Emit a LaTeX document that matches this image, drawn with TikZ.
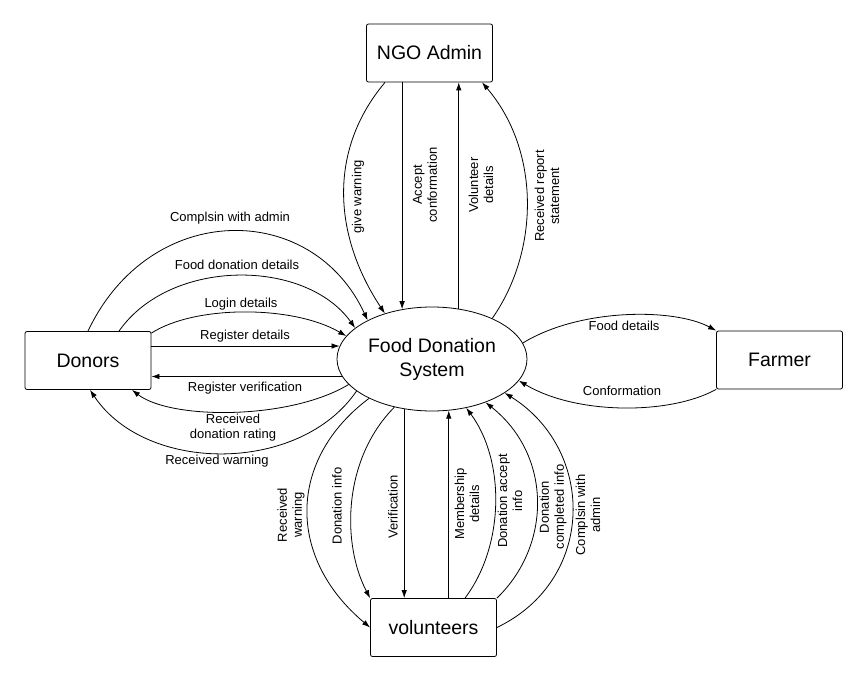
\documentclass[tikz,border=0pt]{standalone}
\usepackage{fontspec}
\setmainfont{Liberation Sans}
\usetikzlibrary{shapes.geometric,arrows.meta}
\begin{document}
\begin{tikzpicture}[x=1pt,y=-1pt,
 box/.style={draw, line width=0.8pt, rounded corners=2pt, minimum width=126pt, minimum height=58pt, inner sep=0pt, font=\fontsize{19.5}{24}\selectfont},
 lbl/.style={font=\fontsize{13}{15}\selectfont, align=center, inner sep=0pt},
 vlbl/.style={lbl, rotate=90},
 arr/.style={line width=0.8pt, -{Latex[length=8pt,width=5.5pt]}}]
\useasboundingbox (0,0) rectangle (867,682);
\node[box] (ngo) at (429.5,53) {NGO Admin};
\node[box] (don) at (88,360.5) {Donors};
\node[box] (far) at (779.5,360) {Farmer};
\node[box] (vol) at (433.5,627.5) {volunteers};
\node[draw, ellipse, line width=0.8pt, minimum width=190pt, minimum height=104pt, inner sep=0pt, align=center, font=\fontsize{19.5}{24}\selectfont] (fds) at (432,359) {Food Donation\\System};
% NGO
\draw[arr] ([xshift=-44.5pt]ngo.south) .. controls (328,150) and (333,235) .. (fds.136);
\draw[arr] (fds.121.3 |- ngo.south) -- (fds.121.3);
\draw[arr] (fds.62.5) -- (fds.62.5 |- ngo.south);
\draw[arr] (fds.34.5) .. controls (540,250) and (540,150) .. ([xshift=52.5pt]ngo.south);
% Donors
\draw[arr] (don.north) .. controls (150,200) and (312,200) .. (fds.149);
\draw[arr] ([xshift=31pt]don.north) .. controls (170,258) and (305,258) .. (fds.158.6);
\draw[arr] ([yshift=-2pt]don.north east) .. controls (195,305) and (293,305) .. (fds.165.6);
\draw[arr] (fds.172 -| don.east) -- (fds.172);
\draw[arr] (fds.191.7) -- (fds.191.7 -| don.east);
\draw[arr] (fds.197.6) .. controls (290,420) and (171,420) .. ([xshift=44pt]don.south);
\draw[arr] (fds.203.1) .. controls (300,474) and (146,474) .. ([xshift=2pt]don.south);
% Farmer
\draw[arr] (fds.10.6) .. controls (580,308) and (674,308) .. (far.north west);
\draw[arr] (far.south west) .. controls (670,415) and (576,415) .. (fds.346.9);
% Volunteers
\draw[arr] (fds.212.2) .. controls (287,460) and (287,558) .. (vol.west);
\draw[arr] (fds.232.4) .. controls (342,460) and (342,545) .. (vol.north west);
\draw[arr] (fds.241.6) -- (fds.241.6 |- vol.north);
\draw[arr] (fds.288.4 |- vol.north) -- (fds.288.4);
\draw[arr] ([xshift=31.5pt]vol.north) .. controls (505,545) and (505,460) .. (fds.305);
\draw[arr] (vol.north east) .. controls (552,545) and (552,455) .. (fds.321.8);
\draw[arr] (vol.east) .. controls (596,580) and (596,450) .. (fds.335.6);
% labels
\node[vlbl] (l1) at (358,197) {give warning};
\node[vlbl] (l2) at (425,185) {Accept\\conformation};
\node[vlbl] (l3) at (481,185) {Volunteer\\details};
\node[vlbl] (l4) at (547,196) {Received report\\statement};
\node[lbl] (l5) at (230,218) {Complsin with admin};
\node[lbl] (l6) at (237,265) {Food donation details};
\node[lbl] (l7) at (241,304) {Login details};
\node[lbl] (l8) at (245,336) {Register details};
\node[lbl] (l9) at (245,388) {Register verification};
\node[lbl] (l10) at (233,428) {Received\\donation rating};
\node[lbl] (l11) at (217,461) {Received warning};
\node[lbl] (l12) at (624,326) {Food details};
\node[lbl] (l13) at (622,391) {Conformation};
\node[vlbl] (l14) at (291,515) {Received\\warning};
\node[vlbl] (l15) at (337,506) {Donation info};
\node[vlbl] (l16) at (393,507) {Verification};
\node[vlbl] (l17) at (467,504) {Membership\\details};
\node[vlbl] (l18) at (510,501) {Donation accept\\info};
\node[vlbl] (l19) at (553,507) {Donation\\completed info};
\node[vlbl] (l20) at (588,515) {Complsin with\\admin};
\end{tikzpicture}
\end{document}
